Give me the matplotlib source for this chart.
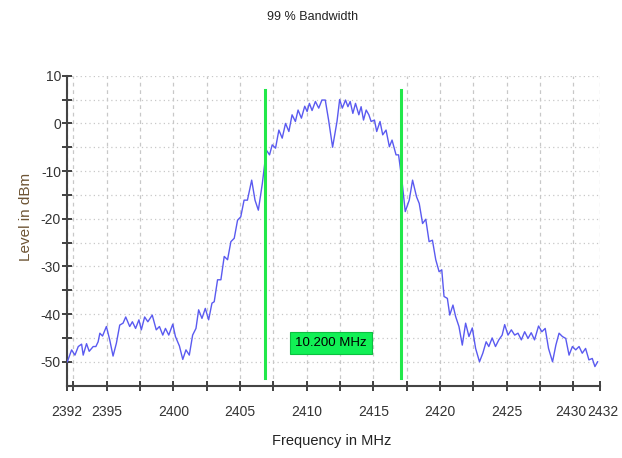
import matplotlib
matplotlib.use("Agg")
import matplotlib.pyplot as plt
from matplotlib.ticker import FixedLocator, NullFormatter
from matplotlib.transforms import ScaledTranslation

freq = [2392.04, 2392.36, 2392.61, 2392.86, 2393.11, 2393.23, 2393.48, 2393.68, 2393.98, 2394.18,
        2394.35, 2394.48, 2394.68, 2394.97, 2395.22, 2395.47, 2395.72, 2395.97, 2396.22, 2396.42,
        2396.72, 2396.92, 2397.16, 2397.41, 2397.59, 2397.84, 2398.08, 2398.41, 2398.71, 2398.95,
        2399.20, 2399.40, 2399.65, 2399.95, 2400.15, 2400.45, 2400.70, 2400.94, 2401.19, 2401.44,
        2401.69, 2401.89, 2402.14, 2402.39, 2402.64, 2402.89, 2403.06, 2403.31, 2403.56, 2403.81,
        2404.06, 2404.31, 2404.56, 2404.81, 2405.05, 2405.30, 2405.55, 2405.87, 2406.12, 2406.37,
        2406.67, 2406.97, 2407.21, 2407.41, 2407.66, 2407.91, 2408.16, 2408.41, 2408.66, 2408.90,
        2409.15, 2409.35, 2409.60, 2409.85, 2410.03, 2410.20, 2410.40, 2410.65, 2410.90, 2411.14,
        2411.39, 2411.64, 2411.94, 2412.27, 2412.47, 2412.67, 2412.91, 2413.09, 2413.26, 2413.46,
        2413.66, 2413.91, 2414.08, 2414.26, 2414.46, 2414.66, 2414.83, 2415.08, 2415.25, 2415.50,
        2415.70, 2415.95, 2416.20, 2416.40, 2416.70, 2416.89, 2417.14, 2417.39, 2417.69, 2417.94,
        2418.24, 2418.44, 2418.69, 2418.93, 2419.18, 2419.43, 2419.68, 2419.93, 2420.13, 2420.30,
        2420.55, 2420.73, 2420.97, 2421.17, 2421.42, 2421.67, 2421.92, 2422.17, 2422.42, 2422.67,
        2422.96, 2423.21, 2423.46, 2423.66, 2423.91, 2424.16, 2424.41, 2424.66, 2424.85, 2425.10,
        2425.35, 2425.60, 2425.85, 2426.10, 2426.35, 2426.60, 2426.84, 2427.09, 2427.39, 2427.64,
        2427.89, 2428.14, 2428.44, 2428.69, 2428.93, 2429.18, 2429.43, 2429.68, 2429.93, 2430.18,
        2430.43, 2430.67, 2430.92, 2431.17, 2431.42, 2431.62, 2431.82]

level = [-50.0, -47.5, -48.6, -46.8, -46.3, -48.6, -46.2, -47.8, -46.8, -46.8,
         -45.8, -44.0, -44.6, -42.6, -45.4, -48.8, -46.1, -42.3, -41.9, -40.6,
         -42.6, -41.6, -43.0, -41.2, -43.3, -40.6, -41.6, -40.2, -43.3, -42.6,
         -44.4, -43.0, -44.4, -42.1, -44.7, -46.7, -49.5, -47.5, -48.6, -44.4,
         -43.0, -39.1, -40.9, -38.8, -41.2, -37.7, -37.4, -32.8, -32.8, -27.9,
         -28.6, -24.8, -24.1, -20.3, -19.6, -16.1, -16.1, -11.9, -16.1, -18.2,
         -12.6, -5.6, -6.6, -4.5, -5.2, -1.4, -3.1, 0.0, -1.7, 1.8,
         0.4, 2.8, 1.1, 3.6, 2.5, 4.2, 2.7, 4.6, 3.2, 4.9,
         4.9, 0.7, -5.0, 0.4, 5.0, 3.2, 4.9, 3.5, 4.6, 2.1,
         4.2, 1.8, 3.5, 0.7, 2.8, 1.8, 0.4, 0.7, -1.7, 0.4,
         -2.4, -1.4, -4.9, -3.5, -6.6, -6.6, -11.9, -18.5, -16.1, -11.9,
         -15.4, -16.8, -21.0, -20.1, -24.8, -24.5, -28.6, -31.1, -30.7, -36.3,
         -36.7, -40.2, -38.1, -40.5, -42.6, -46.5, -41.9, -44.7, -42.9, -47.2,
         -50.0, -48.2, -45.8, -46.8, -45.0, -46.8, -45.4, -44.4, -42.2, -44.4,
         -43.3, -44.4, -44.0, -45.4, -43.7, -45.1, -43.9, -45.4, -42.5, -43.7,
         -43.0, -47.2, -50.0, -46.5, -44.0, -44.7, -45.1, -48.6, -46.8, -47.5,
         -46.8, -48.2, -47.2, -49.6, -49.3, -51.0, -50.0]

bw_lines = [2406.84, 2417.04]
bw_label = "10.200 MHz"
bw_label_pos = (2411.83, -46.1)

x_major = [2392, 2395, 2400, 2405, 2410, 2415, 2420, 2425, 2430, 2432]
x_minor = [2392.5, 2397.5, 2402.5, 2407.5, 2412.5, 2417.5, 2422.5, 2427.5]
y_major = [-50, -40, -30, -20, -10, 0, 10]
y_minor = [-45, -35, -25, -15, -5, 5]

title = "99 % Bandwidth"
xlabel = "Frequency in MHz"
ylabel = "Level in dBm"

fam = ["Liberation Sans Narrow", "Liberation Sans", "DejaVu Sans"]
plt.rcParams["font.family"] = fam

fig = plt.figure(figsize=(6.22, 4.58), dpi=100)
ax = fig.add_axes([0.1074, 0.158, 0.8572, 0.6767])

# grid
for x in x_major + x_minor:
    ax.axvline(x, color="#c8c8c8", lw=0.9, ls=(0, (3, 3)), zorder=0)
for y in y_major + y_minor:
    ax.axhline(y, color="#c8c8c8", lw=0.9, ls=(0, (1, 2.5)), zorder=0)

ax.plot(freq, level, color="#5a5af0", lw=1.0, zorder=3)

for x in bw_lines:
    ax.plot([x, x], [7.0, -53.4], color="#22e84a", lw=2.2, zorder=4)

ax.text(bw_label_pos[0], bw_label_pos[1], bw_label, ha="center", va="center",
        fontsize=9.5, color="black", zorder=5,
        bbox=dict(boxstyle="square,pad=0.4", fc="#11f055", ec="#0cc040", lw=0.8))

ax.set_xlim(2392, 2432)
ax.set_ylim(-55, 10)

ax.xaxis.set_major_locator(FixedLocator(x_major))
ax.xaxis.set_minor_locator(FixedLocator(x_minor))
ax.yaxis.set_major_locator(FixedLocator(y_major))
ax.yaxis.set_minor_locator(FixedLocator(y_minor))
ax.xaxis.set_minor_formatter(NullFormatter())
ax.yaxis.set_minor_formatter(NullFormatter())
ax.set_xticklabels([str(v) for v in x_major])
ax.set_yticklabels([str(v) for v in y_major])

ax.tick_params(axis="both", which="both", direction="inout", length=6.5, width=1.3,
               color="#333333", labelsize=10, labelcolor="#333333")
ax.tick_params(axis="x", which="both", pad=11)
ax.tick_params(axis="y", which="both", pad=1)

# nudge the two crowded labels at the right end apart
xl = ax.get_xticklabels()
xl[-2].set_transform(xl[-2].get_transform() + ScaledTranslation(-3 / 100, 0, fig.dpi_scale_trans))
xl[-1].set_transform(xl[-1].get_transform() + ScaledTranslation(3 / 100, 0, fig.dpi_scale_trans))

for s in ["top", "right"]:
    ax.spines[s].set_visible(False)
for s in ["left", "bottom"]:
    ax.spines[s].set_color("#444444")
    ax.spines[s].set_linewidth(1.5)

ax.set_xlabel(xlabel, fontsize=10.5, color="#222222")
ax.xaxis.set_label_coords(0.4976, -0.155)
ax.set_ylabel(ylabel, fontsize=11, color="#6e5535")
ax.yaxis.set_label_coords(-0.063, 0.544)
fig.text(0.502, 0.962, title, ha="center", va="center", fontsize=9, color="#222222")

fig.savefig("out.png", dpi=100)
